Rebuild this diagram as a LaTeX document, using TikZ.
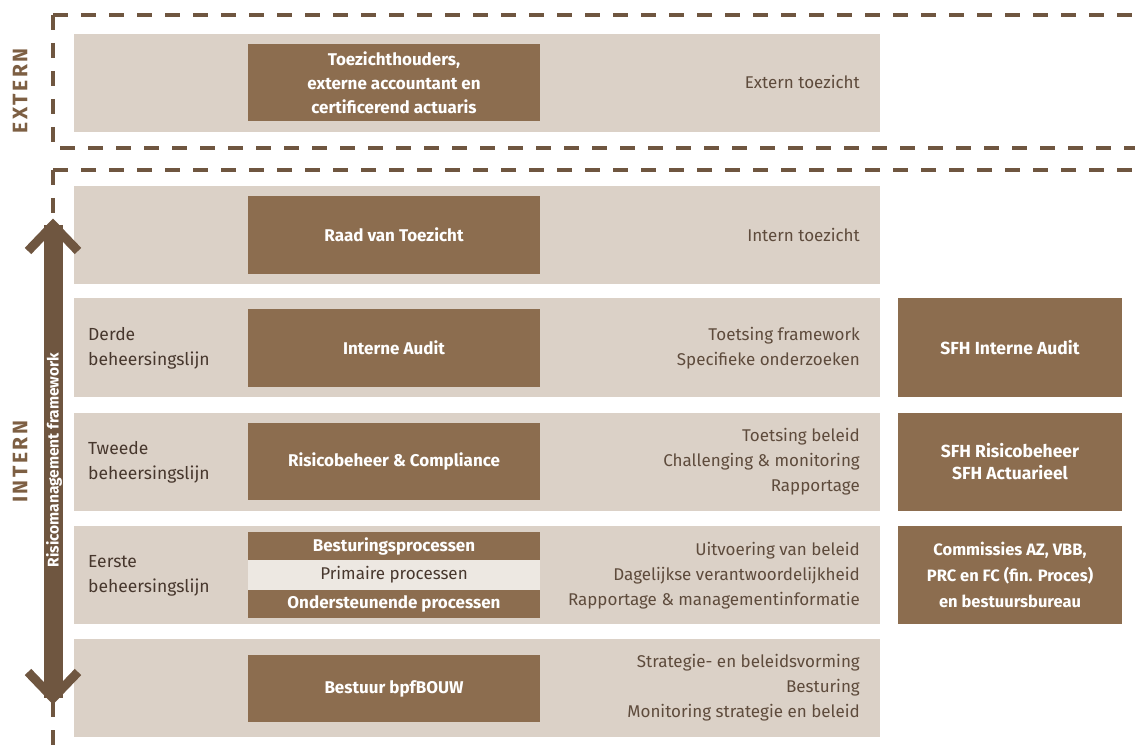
\documentclass[tikz,border=0pt]{standalone}
\usepackage{fontspec}
\setmainfont{Fira Sans}
\definecolor{bandc}{HTML}{DBD1C7}
\definecolor{darkc}{HTML}{8C6D4F}
\definecolor{lightc}{HTML}{EDE8E2}
\definecolor{linec}{HTML}{6F5640}
\definecolor{txtc}{HTML}{5E4B3C}
\definecolor{lblc}{HTML}{47372D}
\definecolor{headc}{HTML}{7D5F43}
\begin{document}
\begin{tikzpicture}[x=1pt,y=-1pt,
  bandbox/.style={fill=bandc, draw=none, minimum width=806pt, minimum height=98pt, inner sep=0pt},
  darkbox/.style={fill=darkc, draw=none, minimum width=292pt, inner sep=0pt, text=white, align=center,
     font=\bfseries\fontsize{17}{24}\selectfont},
  sidebox/.style={fill=darkc, draw=none, minimum width=224pt, minimum height=98pt, inner sep=0pt, text=white, align=center,
     font=\bfseries\fontsize{17.5}{24}\selectfont},
  desc/.style={anchor=east, align=right, inner sep=0pt, text=txtc, font=\fontsize{17}{25}\selectfont},
  lvl/.style={anchor=west, align=left, inner sep=0pt, text=lblc, font=\fontsize{17.5}{25}\selectfont},
  dashline/.style={draw=linec, line width=3.5pt, dash pattern=on 15pt off 13pt},
  sidelabel/.style={rotate=90, text=headc, font=\bfseries\fontsize{21}{21}\selectfont\addfontfeatures{LetterSpace=12}}
]
\useasboundingbox (0,0) rectangle (1135,751);
% dashed frames
\draw[dashline] (53,15) -- (1140,15);
\draw[dashline] (53,15) -- (53,148) -- (1140,148);
\draw[dashline] (53,170) -- (1140,170);
\draw[dashline] (53,170) -- (53,755);
% side labels
\node[sidelabel] (ext) at (20,91) {EXTERN};
\node[sidelabel] (int) at (20,462) {INTERN};
% bands
\node[bandbox] (b0) at (477,83) {};
\node[bandbox] (b1) at (477,235) {};
\node[bandbox] (b2) at (477,347.5) {};
\node[bandbox] (b3) at (477,462) {};
\node[bandbox] (b4) at (477,575) {};
\node[bandbox] (b5) at (477,688) {};
% dark boxes
\node[darkbox, minimum height=77pt] (d0) at (394,82.5) {Toezichthouders,\\externe accountant en\\certificerend actuaris};
\node[darkbox, minimum height=78pt] (d1) at (394,235) {Raad van Toezicht};
\node[darkbox, minimum height=78pt] (d2) at (394,348) {Interne Audit};
\node[darkbox, minimum height=77pt] (d3) at (394,461.5) {Risicobeheer \& Compliance};
\node[darkbox, minimum height=28pt] (d4a) at (394,546) {Besturingsprocessen};
\node[darkbox, minimum height=30pt, fill=lightc, text=lblc, font=\fontsize{17}{24}\selectfont] (d4b) at (394,575) {Primaire processen};
\node[darkbox, minimum height=28pt] (d4c) at (394,604) {Ondersteunende processen};
\node[darkbox, minimum height=67pt] (d5) at (394,688.5) {Bestuur bpfBOUW};
% level labels
\node[lvl] (l2) at (88,348) {Derde\\beheersingslijn};
\node[lvl] (l3) at (88,462) {Tweede\\beheersingslijn};
\node[lvl] (l4) at (88,576) {Eerste\\beheersingslijn};
% descriptions
\node[desc] (t0) at (860,82) {Extern toezicht};
\node[desc] (t1) at (860,235) {Intern toezicht};
\node[desc] (t2) at (860,348.5) {Toetsing framework\\Specifieke onderzoeken};
\node[desc] (t3) at (860,462) {Toetsing beleid\\Challenging \& monitoring\\Rapportage};
\node[desc] (t4) at (860,575.5) {Uitvoering van beleid\\Dagelijkse verantwoordelijkheid\\Rapportage \& managementinformatie};
\node[desc] (t5) at (860,688) {Strategie- en beleidsvorming\\Besturing\\Monitoring strategie en beleid};
% side boxes
\node[sidebox] (s2) at (1010,347.5) {SFH Interne Audit};
\node[sidebox, font=\bfseries\fontsize{17.5}{22}\selectfont] (s3) at (1010,462) {SFH Risicobeheer\\SFH Actuarieel};
\node[sidebox, font=\bfseries\fontsize{16.5}{26}\selectfont] (s4) at (1010,575) {Commissies AZ, VBB,\\PRC en FC (fin. Proces)\\en bestuursbureau};
% arrow
\coordinate (atop) at (53,225);
\coordinate (abot) at (53,698);
\draw[linec, line width=19pt] (atop) -- (abot);
\draw[linec, line width=9pt, line join=miter, line cap=butt] ([xshift=-25pt,yshift=-26pt]atop) -- (atop) -- ([xshift=25pt,yshift=-26pt]atop);
\draw[linec, line width=9pt, line join=miter, line cap=butt] ([xshift=-25pt,yshift=26pt]abot) -- (abot) -- ([xshift=25pt,yshift=26pt]abot);
\node[rotate=90, text=white, inner sep=0pt, font=\bfseries\fontsize{15.5}{15.5}\selectfont] (rf) at (54,460) {Risicomanagement framework};
\end{tikzpicture}
\end{document}
